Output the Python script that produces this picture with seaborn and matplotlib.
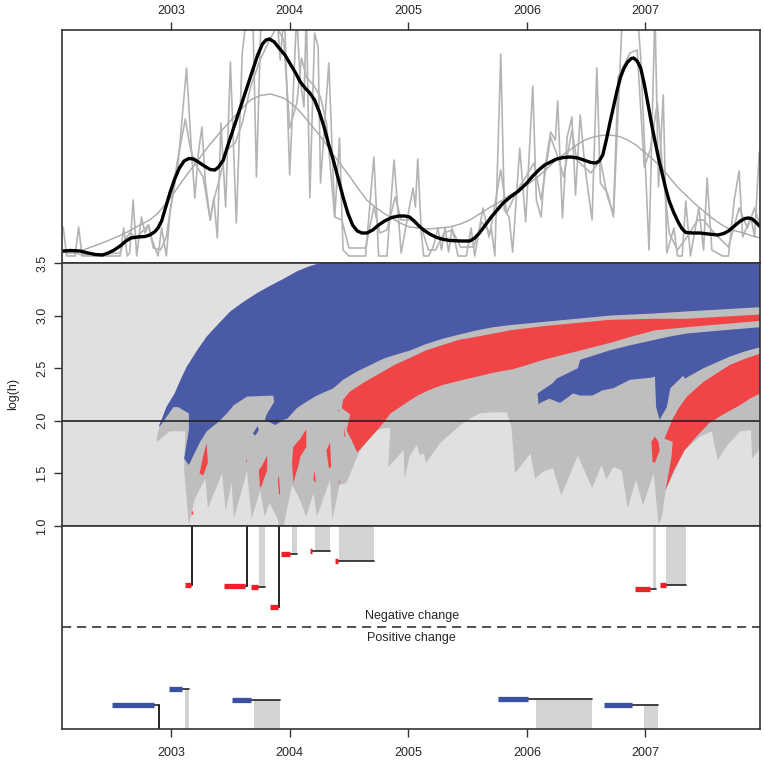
import matplotlib
matplotlib.use('Agg')
import matplotlib.pyplot as plt
import seaborn as sns
import pandas as pd

sns.set_style('ticks')
plt.rcParams['font.family'] = ['Liberation Sans', 'DejaVu Sans']
plt.rcParams['axes.linewidth'] = 1.2

years = [2003, 2004, 2005, 2006, 2007]
logh_ticks = [1.0, 1.5, 2.0, 2.5, 3.0, 3.5]

# top panel: thick smooth curve (time, intensity)
smooth_curve = [(2002.09, 12), (2002.15, 12.5), (2002.23, 12), (2002.30, 10), (2002.36, 8.5), (2002.42, 8), (2002.47, 10),
                (2002.52, 13), (2002.57, 17), (2002.62, 22), (2002.66, 25), (2002.72, 26), (2002.78, 26.5), (2002.82, 28),
                (2002.86, 31), (2002.89, 35), (2002.92, 42), (2002.95, 54), (2002.99, 70), (2003.03, 84), (2003.07, 95),
                (2003.11, 102), (2003.15, 104.5), (2003.19, 104), (2003.23, 101), (2003.28, 97), (2003.33, 93.5),
                (2003.37, 93), (2003.40, 96), (2003.44, 103), (2003.48, 118), (2003.53, 136), (2003.58, 154), (2003.63, 172),
                (2003.68, 190), (2003.73, 208), (2003.77, 219), (2003.80, 223), (2003.83, 224), (2003.87, 221), (2003.91, 215),
                (2003.96, 208), (2004.00, 200), (2004.05, 190), (2004.09, 181), (2004.13, 175), (2004.17, 170), (2004.21, 163),
                (2004.25, 151), (2004.29, 136), (2004.33, 118), (2004.37, 102), (2004.41, 84), (2004.45, 66), (2004.49, 50),
                (2004.53, 38), (2004.57, 32), (2004.61, 30), (2004.65, 30), (2004.70, 33), (2004.75, 38), (2004.80, 42),
                (2004.86, 45.5), (2004.92, 47), (2004.97, 47), (2005.01, 46), (2005.05, 42), (2005.09, 37), (2005.13, 33),
                (2005.18, 29), (2005.23, 26), (2005.28, 24), (2005.35, 22.5), (2005.45, 22), (2005.52, 22), (2005.56, 25),
                (2005.60, 30), (2005.65, 38), (2005.70, 46), (2005.75, 53), (2005.80, 60), (2005.86, 66), (2005.93, 72),
                (2006.00, 80), (2006.05, 87), (2006.10, 93), (2006.15, 98), (2006.20, 101), (2006.25, 104), (2006.31, 105.5),
                (2006.37, 106), (2006.43, 105), (2006.48, 103), (2006.54, 100.5), (2006.58, 100), (2006.61, 102), (2006.64, 108),
                (2006.67, 123), (2006.70, 140), (2006.73, 156), (2006.76, 172), (2006.79, 186), (2006.82, 195), (2006.85, 201),
                (2006.88, 204.5), (2006.90, 205), (2006.93, 202), (2006.96, 195), (2006.99, 179), (2007.02, 160), (2007.05, 140),
                (2007.08, 122), (2007.11, 105), (2007.14, 90), (2007.17, 75), (2007.20, 62), (2007.24, 50), (2007.28, 40),
                (2007.31, 34), (2007.34, 30.5), (2007.40, 30), (2007.46, 30), (2007.53, 29), (2007.61, 28), (2007.66, 29.5),
                (2007.70, 32), (2007.75, 37), (2007.80, 42), (2007.84, 44.5), (2007.87, 45), (2007.90, 44), (2007.93, 41),
                (2007.97, 36)]

# top panel: wide bandwidth curve
wide_curve = [(2002.09, 11), (2002.18, 11.5), (2002.26, 13), (2002.35, 17), (2002.45, 21.5), (2002.54, 26), (2002.63, 31),
              (2002.72, 37), (2002.82, 43), (2002.89, 50), (2002.96, 60), (2003.03, 71), (2003.10, 83), (2003.17, 94),
              (2003.24, 105), (2003.31, 116), (2003.38, 126), (2003.46, 137), (2003.53, 146), (2003.60, 155), (2003.67, 163),
              (2003.75, 167.5), (2003.84, 169), (2003.95, 165), (2004.02, 159), (2004.09, 151), (2004.16, 141), (2004.23, 131),
              (2004.30, 120), (2004.37, 108), (2004.44, 97), (2004.51, 86), (2004.58, 74), (2004.65, 63), (2004.72, 56),
              (2004.79, 50), (2004.86, 45), (2004.93, 40), (2005.01, 36), (2005.09, 35), (2005.18, 34), (2005.26, 35),
              (2005.35, 36), (2005.44, 39), (2005.52, 43), (2005.60, 49), (2005.68, 55), (2005.77, 61), (2005.86, 68),
              (2005.93, 73), (2006.00, 78), (2006.07, 84), (2006.14, 91), (2006.21, 99), (2006.28, 106), (2006.35, 112),
              (2006.42, 118), (2006.49, 123), (2006.56, 126), (2006.63, 127.5), (2006.70, 128), (2006.78, 126.5), (2006.85, 123),
              (2006.92, 118), (2006.99, 111), (2007.06, 104), (2007.13, 96), (2007.20, 86), (2007.27, 76), (2007.34, 68),
              (2007.41, 60), (2007.48, 53), (2007.55, 46), (2007.62, 40), (2007.69, 35), (2007.76, 32), (2007.83, 30),
              (2007.90, 27), (2007.97, 25)]

# top panel: medium bandwidth curve
mid_t = [2002.09, 2002.12, 2002.19, 2002.25, 2002.57, 2002.61, 2002.65, 2002.71, 2002.77, 2002.81, 2002.85,
         2002.91, 2002.96, 2003.05, 2003.12, 2003.16, 2003.20, 2003.27, 2003.33, 2003.36, 2003.39, 2003.47,
         2003.54, 2003.60, 2003.67, 2003.75, 2003.83, 2003.89, 2003.95, 2004.00, 2004.06, 2004.10, 2004.14,
         2004.20, 2004.26, 2004.31, 2004.38, 2004.44, 2004.50, 2004.64, 2004.71, 2004.76, 2004.82, 2004.89,
         2004.94, 2005.02, 2005.11, 2005.17, 2005.23, 2005.30, 2005.37, 2005.44, 2005.55, 2005.62, 2005.69,
         2005.78, 2005.83, 2005.92, 2005.99, 2006.06, 2006.12, 2006.20, 2006.27, 2006.31, 2006.38, 2006.42,
         2006.54, 2006.62, 2006.68, 2006.73, 2006.77, 2006.87, 2006.93, 2006.99, 2007.04, 2007.10, 2007.14,
         2007.20, 2007.27, 2007.35, 2007.44, 2007.49, 2007.58, 2007.70, 2007.79, 2007.86, 2007.92, 2007.97]
mid_v = [13, 10, 10, 8, 10, 23, 30, 26, 33, 38, 15, 13, 26, 100, 144, 116, 100, 86, 43, 63, 76, 113,
         120, 140, 176, 203, 223, 236, 223, 135, 160, 205, 186, 178, 166, 140, 46, 43, 15, 15, 56, 30,
         33, 66, 43, 43, 36, 13, 13, 30, 33, 16, 16, 41, 30, 93, 50, 73, 86, 100, 63, 126, 103, 86,
         133, 103, 90, 103, 66, 50, 186, 210, 213, 96, 113, 160, 100, 30, 13, 26, 43, 43, 30, 16, 55,
         35, 55, 36]

# top panel: narrow bandwidth curve
spiky_t = [2002.09, 2002.12, 2002.19, 2002.22, 2002.25, 2002.57, 2002.60, 2002.63, 2002.65, 2002.68, 2002.71,
           2002.75, 2002.78, 2002.81, 2002.84, 2002.89, 2002.92, 2002.96, 2002.99, 2003.06, 2003.13, 2003.17,
           2003.20, 2003.23, 2003.26, 2003.29, 2003.33, 2003.36, 2003.39, 2003.42, 2003.46, 2003.50, 2003.55,
           2003.60, 2003.62, 2003.64, 2003.67, 2003.68, 2003.69, 2003.72, 2003.76, 2003.89, 2003.92, 2003.95,
           2003.96, 2004.00, 2004.06, 2004.07, 2004.09, 2004.12, 2004.14, 2004.17, 2004.21, 2004.24, 2004.26,
           2004.33, 2004.38, 2004.42, 2004.45, 2004.50, 2004.64, 2004.71, 2004.75, 2004.82, 2004.88, 2004.94,
           2004.99, 2005.01, 2005.04, 2005.06, 2005.08, 2005.11, 2005.13, 2005.17, 2005.21, 2005.25, 2005.28,
           2005.31, 2005.34, 2005.37, 2005.42, 2005.49, 2005.53, 2005.56, 2005.63, 2005.68, 2005.70, 2005.73,
           2005.78, 2005.81, 2005.85, 2005.88, 2005.94, 2005.99, 2006.05, 2006.08, 2006.12, 2006.15, 2006.20,
           2006.24, 2006.26, 2006.30, 2006.34, 2006.38, 2006.41, 2006.45, 2006.49, 2006.55, 2006.59, 2006.62,
           2006.68, 2006.73, 2006.80, 2006.85, 2006.93, 2006.96, 2007.00, 2007.03, 2007.08, 2007.11, 2007.15,
           2007.18, 2007.24, 2007.27, 2007.31, 2007.34, 2007.38, 2007.45, 2007.49, 2007.52, 2007.56, 2007.65,
           2007.70, 2007.75, 2007.79, 2007.82, 2007.89, 2007.92, 2007.96, 2007.98]
spiky_v = [36, 7, 7, 36, 7, 7, 35, 7, 10, 63, 7, 46, 30, 38, 23, 7, 35, 7, 50, 100, 195, 116, 65, 110, 136,
           80, 43, 65, 25, 140, 56, 201, 40, 210, 231, 253, 253, 233, 243, 86, 253, 253, 203, 246, 233, 88,
           253, 223, 183, 156, 253, 65, 230, 216, 80, 200, 46, 125, 13, 7, 7, 106, 7, 7, 103, 10, 43, 56,
           75, 56, 104, 30, 7, 7, 16, 35, 13, 35, 11, 35, 7, 7, 35, 7, 55, 26, 35, 7, 209, 53, 46, 11, 115,
           41, 177, 63, 46, 93, 131, 123, 162, 45, 126, 146, 68, 148, 96, 43, 195, 80, 70, 46, 233, 253,
           253, 206, 96, 13, 253, 76, 168, 10, 35, 7, 7, 62, 7, 55, 13, 85, 13, 7, 7, 64, 92, 26, 46, 26,
           111, 93]

# middle panel outlines (year, log h)
grey_region = [(2002.88, 1.85), (2002.92, 2.01), (2002.96, 2.13), (2003.03, 2.26), (2003.08, 2.39), (2003.13, 2.51),
               (2003.22, 2.67), (2003.30, 2.80), (2003.39, 2.91), (2003.50, 3.04), (2003.61, 3.13), (2003.72, 3.21),
               (2003.83, 3.28), (2003.95, 3.35), (2004.06, 3.42), (2004.17, 3.47), (2004.26, 3.50), (2007.97, 3.50),
               (2007.97, 1.74), (2007.90, 1.64), (2007.89, 1.91), (2007.80, 1.90), (2007.70, 1.78), (2007.61, 1.63),
               (2007.58, 1.78), (2007.56, 1.90), (2007.46, 1.85), (2007.33, 1.72), (2007.17, 1.34), (2007.14, 1.09),
               (2007.11, 1.01), (2007.07, 1.50), (2006.98, 1.20), (2006.92, 1.44), (2006.85, 1.17), (2006.80, 1.53),
               (2006.73, 1.56), (2006.67, 1.44), (2006.63, 1.58), (2006.55, 1.36), (2006.43, 1.67), (2006.29, 1.29),
               (2006.22, 1.55), (2006.14, 1.52), (2006.07, 1.45), (2006.03, 1.69), (2005.90, 1.50), (2005.87, 1.94),
               (2005.83, 2.08), (2005.70, 2.08), (2005.60, 2.07), (2005.52, 2.02), (2005.44, 1.96), (2005.36, 1.88),
               (2005.27, 1.79), (2005.15, 1.60), (2005.13, 1.69), (2005.10, 1.67), (2005.07, 1.77), (2005.01, 1.66),
               (2004.97, 1.45), (2004.96, 1.72), (2004.83, 1.56), (2004.85, 1.93), (2004.79, 1.93), (2004.73, 1.91),
               (2004.65, 1.80), (2004.58, 1.69), (2004.48, 1.41), (2004.42, 1.39), (2004.36, 1.06), (2004.34, 1.44),
               (2004.23, 1.09), (2004.20, 1.31), (2004.14, 1.09), (2004.07, 1.29), (2004.02, 1.39), (2003.95, 1.01),
               (2003.91, 1.01), (2003.89, 1.09), (2003.83, 1.22), (2003.79, 1.09), (2003.75, 1.34), (2003.68, 1.07),
               (2003.64, 1.52), (2003.53, 1.07), (2003.51, 1.41), (2003.46, 1.14), (2003.43, 1.50), (2003.31, 1.17),
               (2003.29, 1.45), (2003.20, 1.26), (2003.15, 1.01), (2003.11, 1.53), (2003.12, 1.90), (2002.99, 1.90),
               (2002.88, 1.80)]
blue_main = [(2002.90, 1.96), (2002.92, 2.01), (2002.96, 2.13), (2003.03, 2.26), (2003.08, 2.39), (2003.13, 2.51),
             (2003.22, 2.67), (2003.30, 2.80), (2003.39, 2.91), (2003.50, 3.04), (2003.61, 3.13), (2003.72, 3.21),
             (2003.83, 3.28), (2003.95, 3.35), (2004.06, 3.42), (2004.17, 3.47), (2004.26, 3.50), (2007.97, 3.50),
             (2007.97, 3.08), (2007.66, 3.06), (2007.35, 3.04), (2007.07, 3.02), (2006.88, 3.01), (2006.70, 3.00),
             (2006.42, 2.97), (2006.14, 2.94), (2005.86, 2.91), (2005.72, 2.89), (2005.58, 2.86), (2005.43, 2.82),
             (2005.29, 2.78), (2005.15, 2.73), (2005.02, 2.67), (2004.90, 2.63), (2004.79, 2.59), (2004.68, 2.53),
             (2004.57, 2.47), (2004.45, 2.39), (2004.37, 2.31), (2004.23, 2.24), (2004.14, 2.18), (2004.06, 2.12),
             (2003.98, 2.02), (2003.95, 2.01), (2003.88, 1.96), (2003.79, 2.01), (2003.81, 2.07), (2003.87, 2.18),
             (2003.86, 2.24), (2003.64, 2.23), (2003.53, 2.15), (2003.47, 2.07), (2003.40, 1.99), (2003.30, 1.90),
             (2003.24, 1.79), (2003.15, 1.58), (2003.11, 1.64), (2003.15, 1.91), (2003.15, 2.07), (2003.06, 2.13),
             (2003.02, 2.13), (2002.90, 1.94)]
blue_second = [(2006.09, 2.26), (2006.22, 2.36), (2006.25, 2.40), (2006.43, 2.50), (2006.45, 2.58), (2006.70, 2.67),
               (2006.88, 2.72), (2007.08, 2.77), (2007.20, 2.80), (2007.35, 2.83), (2007.65, 2.86), (2007.97, 2.89),
               (2007.97, 2.70), (2007.84, 2.66), (2007.71, 2.61), (2007.49, 2.50), (2007.33, 2.40), (2007.32, 2.43),
               (2007.21, 2.31), (2007.18, 2.13), (2007.12, 2.01), (2007.09, 2.13), (2007.08, 2.42), (2007.05, 2.41),
               (2006.87, 2.39), (2006.73, 2.31), (2006.64, 2.29), (2006.55, 2.24), (2006.45, 2.24), (2006.39, 2.26),
               (2006.28, 2.17), (2006.19, 2.21), (2006.11, 2.17), (2006.10, 2.15)]
blue_small = [(2003.69, 1.88), (2003.73, 1.95), (2003.74, 1.91), (2003.71, 1.86)]
red_main = [(2004.44, 2.12), (2004.45, 2.20), (2004.51, 2.28), (2004.62, 2.36), (2004.79, 2.47), (2004.90, 2.54),
            (2005.02, 2.60), (2005.15, 2.67), (2005.29, 2.72), (2005.43, 2.77), (2005.58, 2.80), (2005.72, 2.83),
            (2005.86, 2.86), (2006.00, 2.88), (2006.14, 2.90), (2006.42, 2.93), (2006.70, 2.96), (2007.08, 2.97),
            (2007.35, 2.97), (2007.97, 3.01), (2007.97, 2.95), (2007.35, 2.89), (2007.08, 2.86), (2006.88, 2.80),
            (2006.70, 2.74), (2006.56, 2.70), (2006.42, 2.66), (2006.28, 2.62), (2006.14, 2.58), (2006.00, 2.53),
            (2005.88, 2.49), (2005.73, 2.46), (2005.58, 2.42), (2005.43, 2.38), (2005.29, 2.34), (2005.17, 2.29),
            (2005.08, 2.24), (2005.01, 2.19), (2004.93, 2.13), (2004.85, 2.07), (2004.79, 1.98), (2004.73, 1.90),
            (2004.65, 1.80), (2004.57, 1.70), (2004.52, 1.82), (2004.48, 1.91), (2004.50, 2.01), (2004.51, 2.06)]
red_second = [(2007.97, 2.64), (2007.84, 2.59), (2007.71, 2.53), (2007.60, 2.45), (2007.49, 2.37), (2007.42, 2.30),
              (2007.35, 2.23), (2007.28, 2.12), (2007.23, 2.02), (2007.16, 1.83), (2007.23, 1.80), (2007.22, 1.66),
              (2007.17, 1.34), (2007.24, 1.53), (2007.33, 1.72), (2007.43, 1.85), (2007.54, 1.98), (2007.67, 2.07),
              (2007.80, 2.15), (2007.88, 2.21), (2007.97, 2.26)]
red_islands = [
    [(2007.08, 1.85), (2007.11, 1.80), (2007.12, 1.72), (2007.08, 1.60), (2007.06, 1.61), (2007.05, 1.80)],
    [(2003.30, 1.79), (2003.31, 1.60), (2003.27, 1.48), (2003.24, 1.50), (2003.27, 1.66)],
    [(2003.64, 1.65), (2003.64, 1.61), (2003.63, 1.61)],
    [(2003.81, 1.67), (2003.81, 1.53), (2003.78, 1.44), (2003.76, 1.37), (2003.75, 1.37), (2003.74, 1.53), (2003.77, 1.58)],
    [(2003.91, 1.48), (2003.92, 1.30), (2003.91, 1.30), (2003.90, 1.44)],
    [(2004.14, 1.92), (2004.14, 1.75), (2004.09, 1.66), (2004.07, 1.56), (2004.03, 1.41), (2004.02, 1.60), (2004.03, 1.75), (2004.09, 1.83)],
    [(2004.21, 1.53), (2004.22, 1.41), (2004.20, 1.44)],
    [(2004.34, 1.79), (2004.35, 1.56), (2004.33, 1.55), (2004.31, 1.72)],
    [(2004.42, 1.45), (2004.42, 1.41), (2004.41, 1.40)],
    [(2003.18, 1.15), (2003.19, 1.11), (2003.17, 1.11)],
    [(2004.46, 1.94), (2004.47, 1.85), (2004.46, 1.85)],
    [(2004.41, 2.11), (2004.42, 2.09), (2004.41, 2.09)],
]

# bottom panel: change events (positive level = drawn above the dashed line)
ev_start = [2003.12, 2003.45, 2003.67, 2003.83, 2003.93, 2004.17, 2004.38, 2006.91, 2007.12,
            2002.50, 2002.98, 2003.51, 2005.76, 2006.65]
ev_stop = [2003.17, 2003.62, 2003.73, 2003.90, 2004.00, 2004.19, 2004.41, 2007.04, 2007.17,
           2002.86, 2003.09, 2003.67, 2006.01, 2006.89]
eff_start = [2003.18, 2003.64, 2003.74, 2003.91, 2004.02, 2004.21, 2004.42, 2007.06, 2007.17,
             2002.90, 2003.12, 2003.70, 2006.08, 2006.99]
eff_stop = [2003.18, 2003.64, 2003.79, 2003.91, 2004.06, 2004.34, 2004.71, 2007.09, 2007.34,
            2002.90, 2003.15, 2003.92, 2006.55, 2007.11]
ev_level = [42, 41, 40, 20, 73, 76, 66, 38, 42, -78, -62, -73, -72, -78]

LIGHT = '#e0e0e0'
MID = '#bebebe'
BLUE = '#4b5aa7'
RED = '#f04447'


def fill_region(ax, pts, color):
    ax.fill([p[0] for p in pts], [p[1] for p in pts], color=color, lw=0)


def draw_top(ax):
    smooth_t, smooth_v = zip(*smooth_curve)
    wide_t, wide_v = zip(*wide_curve)
    for t, v, col, lw in [(spiky_t, spiky_v, '#b4b4b4', 1.2),
                          (mid_t, mid_v, '#b4b4b4', 1.2),
                          (wide_t, wide_v, '#a8a8a8', 1.0),
                          (smooth_t, smooth_v, 'black', 2.4)]:
        sns.lineplot(x=list(t), y=list(v), sort=False, estimator=None, color=col, linewidth=lw, ax=ax)
    ax.set_ylim(0, 233)
    ax.set_yticks([])
    ax.xaxis.tick_top()
    ax.set_xticks(years)
    ax.set_xticklabels([str(y) for y in years])
    ax.tick_params(labelsize=9, width=1.0, length=5.5, color='#333333', pad=3.9)


def draw_map(ax):
    ax.set_facecolor(LIGHT)
    fill_region(ax, grey_region, MID)
    fill_region(ax, blue_main, BLUE)
    fill_region(ax, blue_second, BLUE)
    fill_region(ax, blue_small, BLUE)
    fill_region(ax, red_main, RED)
    fill_region(ax, red_second, RED)
    for isl in red_islands:
        fill_region(ax, isl, RED)
    ax.axhline(2.0, color='#222222', lw=1.2)
    ax.set_ylim(1, 3.5)
    ax.set_yticks(logh_ticks)
    ax.set_yticklabels([f'{v:.1f}' for v in logh_ticks], rotation=90, va='center')
    ax.set_ylabel('log(h)', labelpad=12, fontsize=9)
    ax.tick_params(axis='y', labelsize=9, width=1.0, length=5.8, color='#333333', pad=4.2)
    ax.tick_params(axis='x', length=0, labelbottom=False)


def draw_events(ax):
    ev = pd.DataFrame({'start': ev_start, 'stop': ev_stop, 'eff0': eff_start,
                       'eff1': eff_stop, 'level': ev_level})
    for _, e in ev.iterrows():
        edge = 102 if e.level > 0 else -102
        color = '#ed2027' if e.level > 0 else '#3a50a2'
        if e.eff1 > e.eff0:
            ax.fill_between([e.eff0, e.eff1], e.level, edge, color='#d3d3d3', lw=0, zorder=1)
        else:
            ax.plot([e.eff1, e.eff1], [e.level, edge], color='black', lw=1.2, zorder=2)
        ax.plot([e.stop, e.eff1], [e.level, e.level], color='#222222', lw=1.2, zorder=2)
        ax.plot([e.start, e.stop], [e.level, e.level], color=color, lw=3.8, solid_capstyle='butt', zorder=3)
    ax.axhline(0, color='#333333', lw=1.2, dashes=(5.5, 3.5))
    ax.text(2005.03, 10.5, 'Negative change', ha='center', va='center', fontsize=9)
    ax.text(2005.03, -10.5, 'Positive change', ha='center', va='center', fontsize=9)
    ax.set_ylim(-102, 101)
    ax.set_yticks([])
    ax.set_xticks(years)
    ax.set_xticklabels([str(y) for y in years])
    ax.tick_params(labelsize=9, width=1.0, length=6, color='#333333', pad=7)


fig, axes = plt.subplots(3, 1, sharex=False, figsize=(7.64, 7.6), dpi=100,
                         gridspec_kw={'height_ratios': [233, 263, 203], 'hspace': 0})
fig.subplots_adjust(left=62 / 764, right=760 / 764, top=1 - 30 / 760, bottom=1 - 729 / 760)

draw_top(axes[0])
draw_map(axes[1])
draw_events(axes[2])

for ax in axes:
    ax.set_xlim(2002.08, 2007.966)
    for s in ax.spines.values():
        s.set_visible(True)
        s.set_color('#333333')

fig.savefig('out.png', dpi=100)
